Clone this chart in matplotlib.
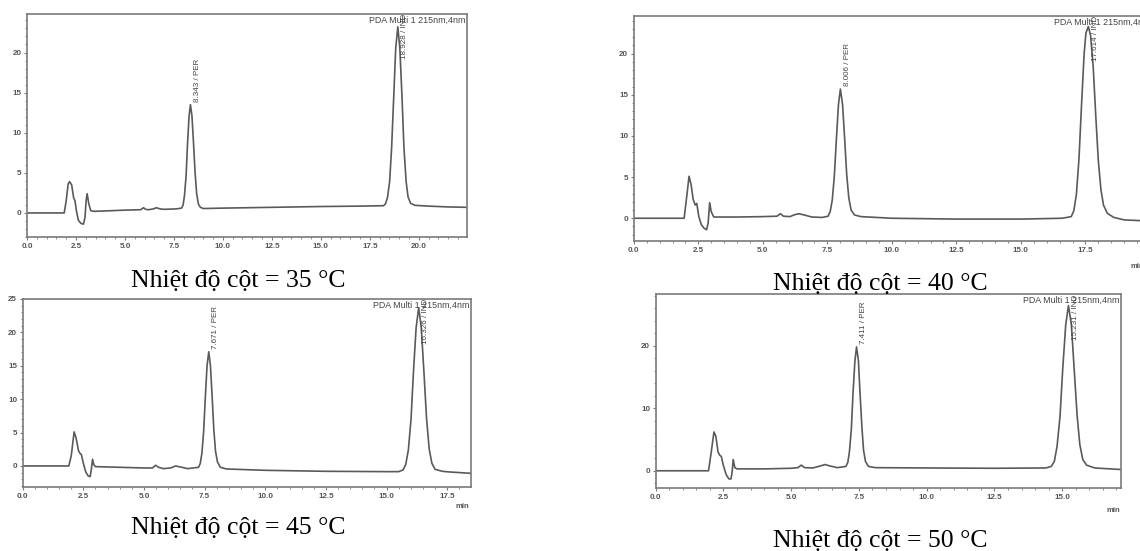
import matplotlib
matplotlib.use("Agg")
import matplotlib.pyplot as plt
from matplotlib.ticker import MultipleLocator, FormatStrFormatter

# ---------------- data ----------------
temps = ["35", "40", "45", "50"]

t35 = [0.0, 1.9, 2.0, 2.1, 2.17, 2.28, 2.38, 2.45, 2.52, 2.62, 2.75, 2.88, 2.96, 3.02, 3.07,
       3.15, 3.25, 3.4, 4.0, 5.0, 5.8, 5.95, 6.05, 6.2, 6.45, 6.6, 6.8, 7.0, 7.6,
       7.89, 7.97, 8.04, 8.12, 8.19, 8.27, 8.343, 8.42, 8.5, 8.58, 8.66, 8.75, 8.85, 9.0,
       10.0, 12.5, 15.0, 17.0, 18.2, 18.3, 18.4, 18.51, 18.61, 18.72, 18.82, 18.928, 19.03,
       19.14, 19.24, 19.35, 19.45, 19.58, 19.8, 20.5, 21.5, 22.46]
s35 = [0.0, 0.0, 1.5, 3.6, 3.9, 3.5, 1.9, 1.5, 0.3, -0.9, -1.3, -1.4, -0.6, 1.6, 2.4,
       1.2, 0.3, 0.2, 0.25, 0.35, 0.4, 0.65, 0.45, 0.4, 0.5, 0.65, 0.5, 0.45, 0.5,
       0.6, 1.0, 2.2, 4.6, 8.4, 12.0, 13.5, 12.1, 8.7, 5.0, 2.4, 1.1, 0.7, 0.55,
       0.6, 0.7, 0.8, 0.85, 0.9, 1.15, 1.9, 3.9, 8.0, 14.5, 20.5, 23.2, 20.6,
       14.6, 8.2, 4.0, 2.0, 1.2, 0.95, 0.85, 0.75, 0.7]

t40 = [0.0, 1.95, 2.05, 2.14, 2.22, 2.3, 2.38, 2.44, 2.52, 2.62, 2.72, 2.82, 2.88, 2.94,
       3.0, 3.1, 4.0, 5.0, 5.55, 5.68, 5.8, 6.05, 6.25, 6.4, 6.6, 6.9, 7.3,
       7.53, 7.61, 7.69, 7.77, 7.85, 7.93, 8.006, 8.09, 8.17, 8.25, 8.33, 8.42, 8.55, 8.8,
       10.0, 12.5, 15.0, 16.6, 16.95, 17.05, 17.15, 17.25, 17.35, 17.45, 17.52, 17.614,
       17.7, 17.8, 17.9, 18.0, 18.1, 18.2, 18.35, 18.6, 19.0, 20.08]
s40 = [0.0, 0.0, 2.6, 5.1, 4.1, 2.3, 1.6, 1.8, 0.2, -0.8, -1.2, -1.4, -0.6, 1.9,
       0.8, 0.15, 0.15, 0.2, 0.25, 0.55, 0.25, 0.2, 0.45, 0.55, 0.4, 0.15, 0.1,
       0.25, 0.8, 2.2, 5.1, 9.6, 13.8, 15.7, 13.8, 9.7, 5.3, 2.5, 1.0, 0.4, 0.2,
       0.0, -0.1, -0.1, 0.0, 0.2, 0.9, 2.9, 7.2, 13.8, 20.0, 22.5, 23.3,
       22.2, 18.5, 12.5, 7.0, 3.5, 1.6, 0.6, 0.1, -0.2, -0.35]

t45 = [0.0, 1.9, 2.0, 2.12, 2.2, 2.3, 2.36, 2.42, 2.5, 2.6, 2.7, 2.78, 2.83, 2.88, 2.93,
       3.0, 4.0, 5.0, 5.35, 5.48, 5.6, 5.8, 6.1, 6.3, 6.5, 6.8,
       7.25, 7.32, 7.39, 7.46, 7.53, 7.6, 7.671, 7.74, 7.81, 7.88, 7.95, 8.03, 8.15, 8.4,
       10.0, 12.5, 15.0, 15.5, 15.68, 15.79, 15.9, 16.01, 16.11, 16.22, 16.326, 16.43,
       16.54, 16.65, 16.76, 16.87, 17.0, 17.3, 17.6, 18.47]
s45 = [0.0, 0.0, 1.5, 5.1, 4.2, 2.3, 1.9, 1.7, 0.4, -0.9, -1.5, -1.6, -0.5, 1.0, 0.2,
       -0.1, -0.2, -0.3, -0.3, 0.1, -0.2, -0.4, -0.3, 0.0, -0.15, -0.4,
       -0.2, 0.37, 1.96, 5.2, 10.3, 15.0, 17.1, 15.0, 10.4, 5.4, 2.2, 0.6, -0.2, -0.45,
       -0.65, -0.8, -0.85, -0.85, -0.6, 0.2, 2.4, 7.0, 14.1, 20.7, 23.7, 20.8,
       14.2, 7.1, 2.5, 0.4, -0.5, -0.8, -0.9, -1.1]

t50 = [0.0, 1.95, 2.05, 2.15, 2.22, 2.3, 2.36, 2.42, 2.5, 2.6, 2.7, 2.78, 2.82, 2.86,
       2.92, 3.0, 4.0, 5.0, 5.25, 5.37, 5.5, 5.8, 6.1, 6.25, 6.4, 6.7,
       7.02, 7.09, 7.15, 7.22, 7.28, 7.35, 7.411, 7.48, 7.54, 7.61, 7.67, 7.74, 7.85, 8.1,
       10.0, 12.5, 14.4, 14.6, 14.71, 14.81, 14.92, 15.02, 15.13, 15.231, 15.34, 15.44,
       15.55, 15.65, 15.76, 15.9, 16.2, 17.17]
s50 = [0.0, 0.0, 3.0, 6.2, 5.5, 3.0, 2.5, 2.3, 0.8, -0.6, -1.3, -1.3, -0.2, 1.8,
       0.5, 0.3, 0.3, 0.4, 0.5, 0.9, 0.5, 0.45, 0.8, 1.0, 0.8, 0.5,
       0.7, 1.35, 3.1, 6.7, 12.3, 17.5, 19.8, 17.6, 12.4, 6.9, 3.3, 1.5, 0.7, 0.5,
       0.45, 0.4, 0.45, 0.7, 1.5, 3.9, 8.7, 16.3, 23.3, 26.4, 23.3, 16.4,
       8.9, 4.2, 1.8, 0.9, 0.45, 0.2]

per_rt = [8.343, 8.006, 7.671, 7.411]
per_h = [13.5, 15.7, 17.1, 19.8]
ind_rt = [18.928, 17.614, 16.326, 15.231]

times = [t35, t40, t45, t50]
signals = [s35, s40, s45, s50]

# ---------------- layout (pixel geometry of the composite) ----------------
W, H = 1140, 551
boxes = [(27, 14, 467, 237), (633.8, 15.8, 1152, 241.3),
         (22.7, 299, 470.7, 487), (655.7, 294.3, 1121, 488.3)]
xlims = [22.46, 20.08, 18.47, 17.17]
ylims = [(-3.0, 24.8), (-2.8, 24.6), (-3.15, 25.0), (-2.8, 28.2)]
ymajor = [5, 5, 5, 10]
yminor = [1, 1, 1, 2]
captions = [(238, 287), (880, 290), (238, 534), (880, 547)]
min_pos = [None, (1137, 267), (462, 507), (1113, 511)]

fig = plt.figure(figsize=(W / 100, H / 100), dpi=100)

line_c = "#5a5a5a"
spine_c = "#7a7a7a"
txt_c = "#555555"

for i in range(4):
    x0, y0, x1, y1 = boxes[i]
    ax = fig.add_axes([x0 / W, 1 - y1 / H, (x1 - x0) / W, (y1 - y0) / H])
    ax.plot(times[i], signals[i], color=line_c, lw=1.2)
    ax.set_xlim(0, xlims[i])
    ax.set_ylim(*ylims[i])
    ax.xaxis.set_major_locator(MultipleLocator(2.5))
    ax.xaxis.set_minor_locator(MultipleLocator(0.5))
    ax.yaxis.set_major_locator(MultipleLocator(ymajor[i]))
    ax.yaxis.set_minor_locator(MultipleLocator(yminor[i]))
    ax.xaxis.set_major_formatter(FormatStrFormatter("%.1f"))
    ax.yaxis.set_major_formatter(FormatStrFormatter("%d"))
    ax.tick_params(which="major", direction="out", length=2.5, width=0.8,
                   color=spine_c, labelsize=5.8, labelcolor=txt_c, pad=1.5)
    ax.tick_params(which="minor", direction="out", length=1.3, width=0.6, color=spine_c)
    for lab in ax.get_xticklabels() + ax.get_yticklabels():
        lab.set_fontweight("bold")
        lab.set_family("Liberation Sans")
    for sp in ax.spines.values():
        sp.set_color(spine_c)
        sp.set_linewidth(1.2)

    ax.text(0.997, 0.99, "PDA Multi 1 215nm,4nm", transform=ax.transAxes,
            ha="right", va="top", fontsize=6.4, color="#444444", family="Liberation Sans")

    ax.annotate(f"{per_rt[i]:.3f} / PER", xy=(per_rt[i], per_h[i]), xytext=(5, 2),
                textcoords="offset points", rotation=90, ha="center", va="bottom",
                fontsize=5.8, color="#444444", family="Liberation Sans")
    t_ind = ax.annotate(f"{ind_rt[i]:.3f} / IND", xy=(ind_rt[i], ylims[i][1]), xytext=(5, 0),
                        textcoords="offset points", rotation=90, ha="center", va="top",
                        fontsize=5.8, color="#444444", family="Liberation Sans",
                        annotation_clip=False)
    t_ind.set_clip_on(True)

    if min_pos[i] is not None:
        mx, my = min_pos[i]
        fig.text(mx / W, 1 - my / H, "min", ha="center", va="center", fontsize=5.5,
                 color=txt_c, fontweight="bold", family="Liberation Sans")

    cx, cy = captions[i]
    fig.text(cx / W, 1 - cy / H, f"Nhiệt độ cột = {temps[i]} °C", ha="center",
             va="baseline", fontsize=18.5, family="Liberation Serif", color="black")

fig.savefig("out.png", dpi=100)
